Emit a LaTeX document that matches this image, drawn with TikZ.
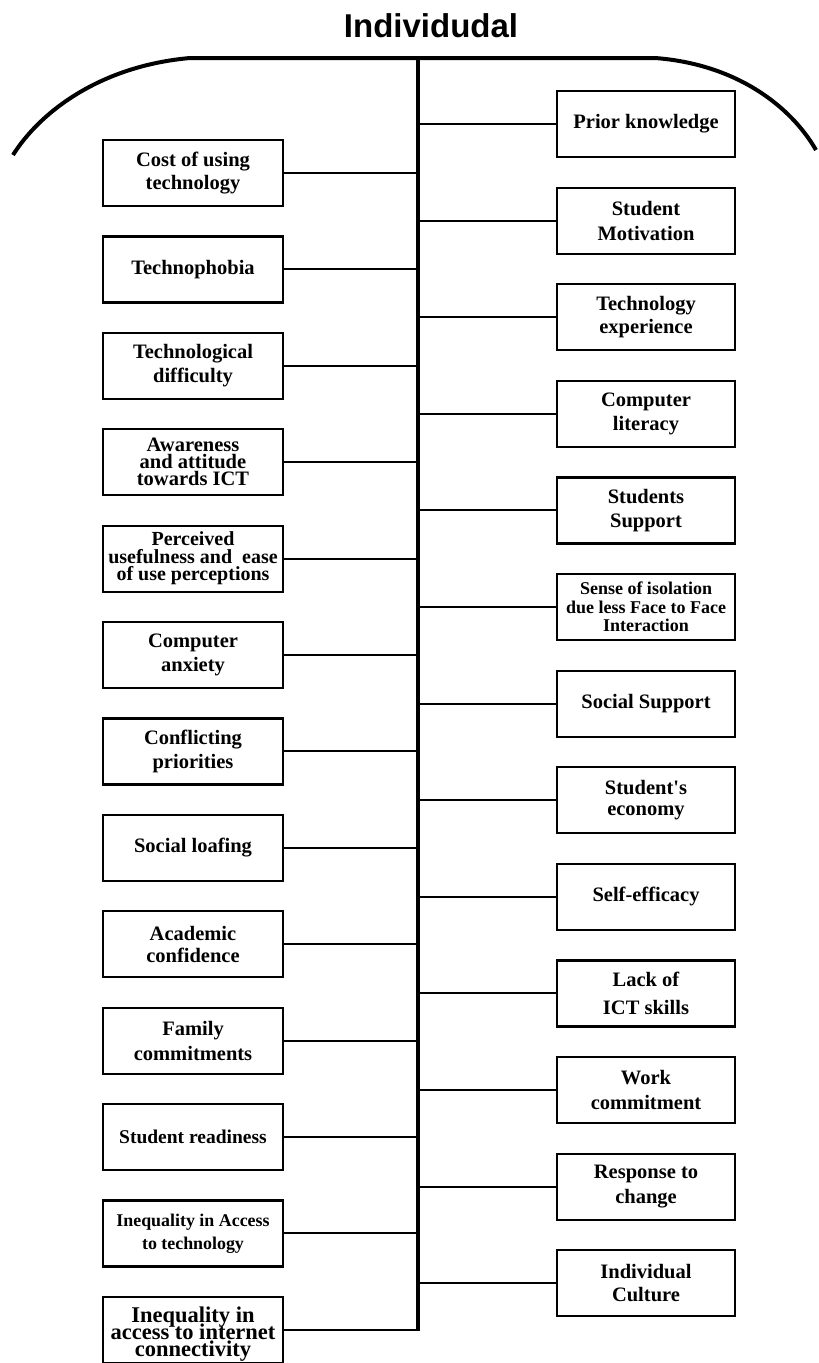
\documentclass[tikz,border=0pt]{standalone}
\usepackage{fontspec}
\setmainfont{Liberation Serif}
\newfontfamily\titlefont{Liberation Sans}
\newfontfamily\quotefont{Liberation Serif}[Ligatures=TeXOff]
\usepackage{tikz}
\newcommand\tightlines{\lineskiplimit=-40pt\relax}

\begin{document}
\begin{tikzpicture}[x=1pt,y=-1pt,
  factor/.style={draw,line width=2.2pt,minimum width=180pt,minimum height=66pt,inner sep=0pt,align=center,
    font=\bfseries\fontsize{20.5}{23.5}\selectfont},
  tight/.style={font=\bfseries\fontsize{20.5}{17}\selectfont\tightlines},
  link/.style={line width=2pt},
  spineline/.style={line width=3.5pt},
  rim/.style={line width=4pt}]
\useasboundingbox (0,0) rectangle (819,1363);
\clip (0,0) rectangle (819,1363);
\node[font=\titlefont\bfseries\fontsize{33}{36}\selectfont,anchor=base] (title) at (431,37) {Individudal};
\draw[rim] (13,155) .. controls (40,112) and (100,66) .. (190,58) -- (655,58) .. controls (735,64) and (790,105) .. (816,150);
\coordinate (top) at (418,58);
\coordinate (bot) at (418,1331);
\draw[spineline] (top) -- (bot);
% left side
\node[factor] (cost) at (193,173) {Cost of using\\technology};
\node[factor] (phobia) at (193,269.4) {Technophobia};
\node[factor] (difficulty) at (193,365.8) {Technological\\difficulty};
\node[factor,tight] (awareness) at (193,462.2) {Awareness\\and attitude\\towards ICT};
\node[factor,font=\bfseries\fontsize{20}{17.5}\selectfont\tightlines] (useful) at (193,558.6) {Perceived\\usefulness and~ ease\\of use perceptions};
\node[factor] (anxiety) at (193,655) {Computer\\anxiety};
\node[factor] (priorities) at (193,751.4) {Conflicting\\priorities};
\node[factor] (loafing) at (193,847.8) {Social loafing};
\node[factor,font=\bfseries\fontsize{20.5}{21.7}\selectfont] (confidence) at (193,944.2) {Academic\\confidence};
\node[factor,font=\bfseries\fontsize{20.5}{25}\selectfont] (family) at (193,1040.6) {Family\\commitments};
\node[factor,font=\bfseries\fontsize{19.5}{23}\selectfont] (readiness) at (193,1137) {Student readiness};
\node[factor,font=\bfseries\fontsize{17.9}{23}\selectfont] (access) at (193,1233.4) {Inequality in Access\\to technology};
\node[factor,font=\bfseries\fontsize{22.5}{17}\selectfont\tightlines] (internet) at (193,1329.8) {\rule{0pt}{25pt}Inequality in\\access to internet\\connectivity};
% right side
\node[factor,minimum width=178pt] (prior) at (646,124) {Prior knowledge};
\node[factor,minimum width=178pt,font=\bfseries\fontsize{20.5}{25}\selectfont] (motivation) at (646,220.6) {Student\\Motivation};
\node[factor,minimum width=178pt] (experience) at (646,317.2) {Technology\\experience};
\node[factor,minimum width=178pt] (literacy) at (646,413.8) {Computer\\literacy};
\node[factor,minimum width=178pt] (support) at (646,510.4) {Students\\Support};
\node[factor,minimum width=178pt,font=\bfseries\fontsize{18}{18.3}\selectfont\tightlines] (isolation) at (646,607) {Sense of isolation\\due less Face to Face\\Interaction};
\node[factor,minimum width=178pt] (social) at (646,703.6) {Social Support};
\node[factor,minimum width=178pt,font=\bfseries\fontsize{20.5}{21.7}\selectfont] (economy) at (646,800.2) {Student{\quotefont'}s\\economy};
\node[factor,minimum width=178pt] (efficacy) at (646,896.8) {Self-efficacy};
\node[factor,minimum width=178pt,font=\bfseries\fontsize{20.5}{28}\selectfont] (ict) at (646,993.4) {Lack of\\ICT skills};
\node[factor,minimum width=178pt,font=\bfseries\fontsize{20.5}{25}\selectfont] (work) at (646,1090) {Work\\commitment};
\node[factor,minimum width=178pt,font=\bfseries\fontsize{20.5}{25}\selectfont] (change) at (646,1186.6) {Response to\\change};
\node[factor,minimum width=178pt] (culture) at (646,1283.2) {Individual\\Culture};
% connectors
\draw[link] (cost) -- (cost -| top);
\draw[link] (phobia) -- (phobia -| top);
\draw[link] (difficulty) -- (difficulty -| top);
\draw[link] (awareness) -- (awareness -| top);
\draw[link] (useful) -- (useful -| top);
\draw[link] (anxiety) -- (anxiety -| top);
\draw[link] (priorities) -- (priorities -| top);
\draw[link] (loafing) -- (loafing -| top);
\draw[link] (confidence) -- (confidence -| top);
\draw[link] (family) -- (family -| top);
\draw[link] (readiness) -- (readiness -| top);
\draw[link] (access) -- (access -| top);
\draw[link] (internet) -- (internet -| top);
\draw[link] (prior -| top) -- (prior);
\draw[link] (motivation -| top) -- (motivation);
\draw[link] (experience -| top) -- (experience);
\draw[link] (literacy -| top) -- (literacy);
\draw[link] (support -| top) -- (support);
\draw[link] (isolation -| top) -- (isolation);
\draw[link] (social -| top) -- (social);
\draw[link] (economy -| top) -- (economy);
\draw[link] (efficacy -| top) -- (efficacy);
\draw[link] (ict -| top) -- (ict);
\draw[link] (work -| top) -- (work);
\draw[link] (change -| top) -- (change);
\draw[link] (culture -| top) -- (culture);
\end{tikzpicture}
\end{document}
